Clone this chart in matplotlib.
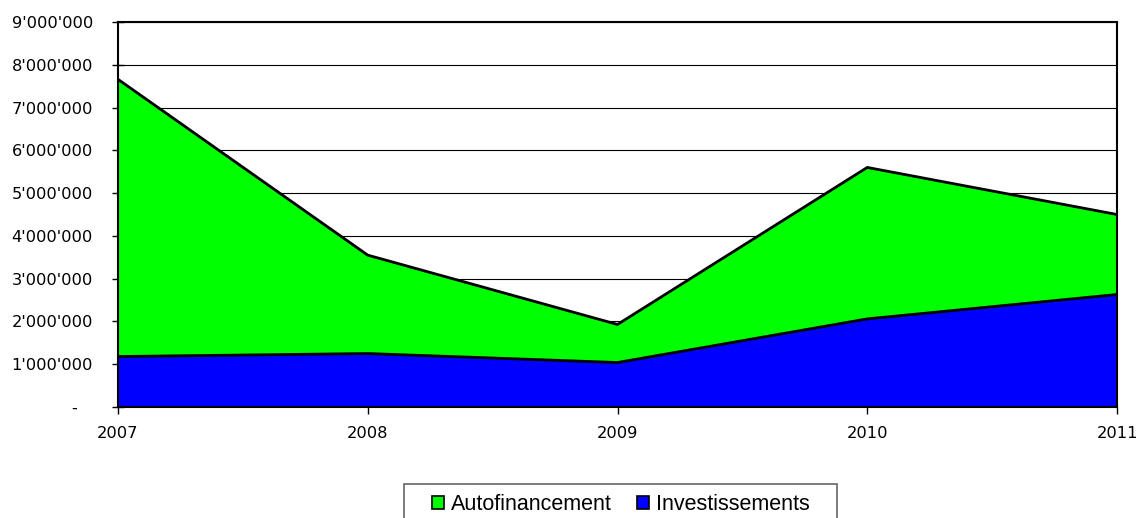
import matplotlib
matplotlib.use("Agg")
import matplotlib.pyplot as plt
from matplotlib.patches import Patch, Rectangle
from matplotlib.ticker import FuncFormatter

years = [2007, 2008, 2009, 2010, 2011]
autofinancement = [7660000, 3550000, 1930000, 5600000, 4500000]
investissements = [1180000, 1250000, 1040000, 2060000, 2630000]
series_names = ["Autofinancement", "Investissements"]
colors = ["#00FF00", "#0000FF"]

fig = plt.figure(figsize=(11.46, 5.18), dpi=100)
ax = fig.add_axes([118/1146, 1-407/518, (1117-118)/1146, (407-22)/518])

for vals, c in zip([autofinancement, investissements], colors):
    ax.fill_between(years, 0, vals, facecolor=c, edgecolor="none", zorder=2)
    ax.plot(years, vals, color="black", lw=2, zorder=3, solid_joinstyle="miter")

ax.set_xlim(2007, 2011)
ax.set_ylim(0, 9000000)
ax.set_yticks(range(0, 9000001, 1000000))
ax.set_xticks(years)

def fmt(v, pos):
    if v == 0:
        return "-   "
    s = f"{int(v):,}".replace(",", "'")
    return s
ax.yaxis.set_major_formatter(FuncFormatter(fmt))

ax.grid(axis="y", color="black", lw=0.8, zorder=1)
ax.set_axisbelow(True)
for s in ax.spines.values():
    s.set_linewidth(1.5)
    s.set_color("black")
    s.set_zorder(4)
ax.tick_params(axis="y", direction="inout", length=9, width=1, labelsize=11.7, pad=13.5)
ax.tick_params(axis="x", direction="out", length=5, width=1, labelsize=11.7, pad=9)
for lab in ax.get_xticklabels() + ax.get_yticklabels():
    lab.set_family("DejaVu Sans")

# legend box
fig.patches.append(Rectangle((404/1146, 1-522/518), 433/1146, 38/518,
                             transform=fig.transFigure, fill=False,
                             edgecolor="#666666", lw=1.2))
handles = [Patch(facecolor=c, edgecolor="black", lw=1.2) for c in colors]
leg = fig.legend(handles, series_names, loc="center left",
                 bbox_to_anchor=(432/1146, 1-504.5/518), ncol=2,
                 frameon=False,
                 prop={"family": "Liberation Sans", "size": 15.5},
                 handlelength=0.56, handleheight=0.56, handletextpad=0.3,
                 columnspacing=1.2, borderpad=0, borderaxespad=0)

fig.savefig("out.png", dpi=100)
